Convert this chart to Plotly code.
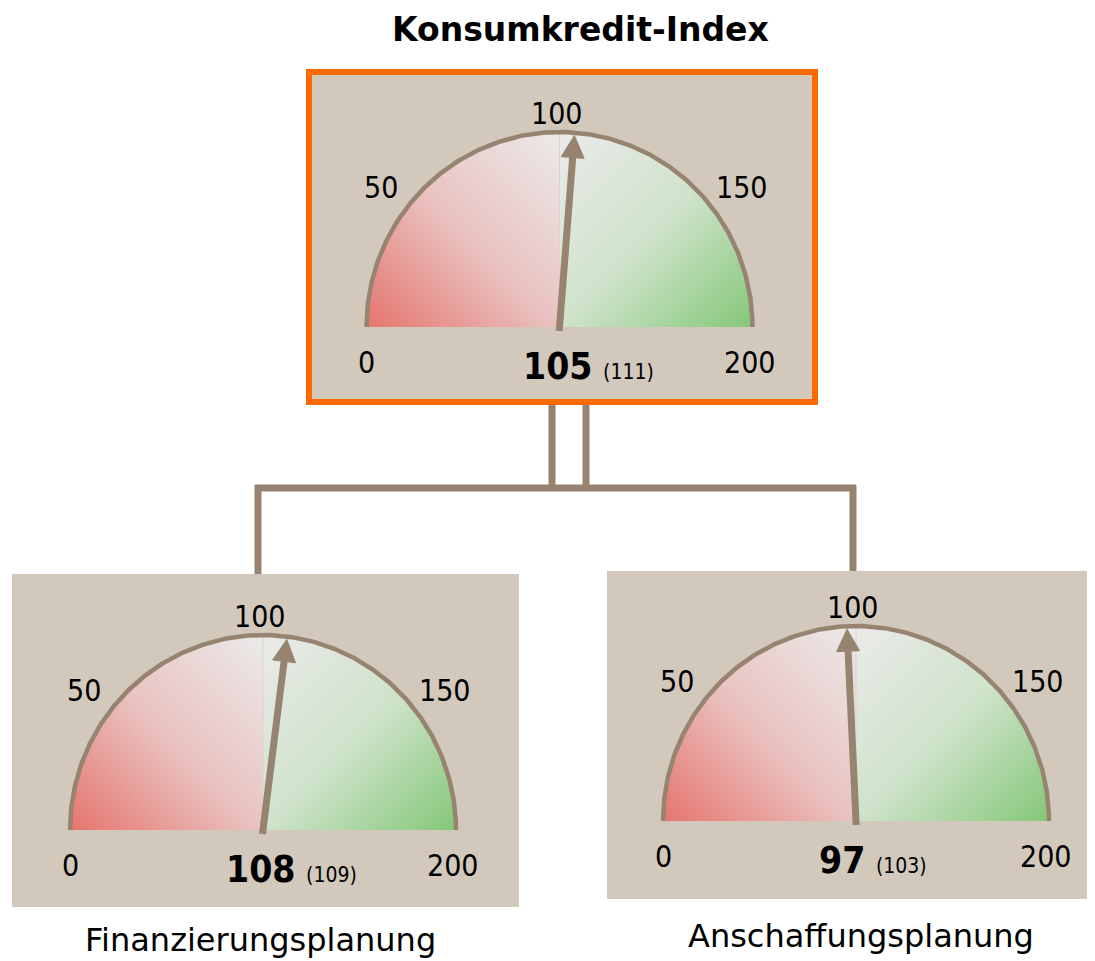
import numpy as np
import plotly.graph_objects as go

# data
GAUGE_NAMES = ["Konsumkredit-Index", "Finanzierungsplanung", "Anschaffungsplanung"]
GAUGE_VALUES = [105, 108, 97]
PREV_VALUES = [111, 109, 103]
TICK_VALUES = [0, 50, 100, 150, 200]
TICK_LABELS = ["0", "50", "100", "150", "200"]
SCALE_MAX = 200

# layout (pixel coordinates of the 1095x961 page)
W, H = 1095, 961
PAGE_MARGIN = 8  # default body margin of the html page
CENTERS = [(559.5, 327), (263, 830), (856, 821)]
PANELS = [(309, 72, 815, 402), (12, 574, 519, 907), (607, 571, 1092, 899)]
NAME_POS = [(580, 8.5), (260, 940), (861, 936)]
RX, RY = 193, 195
STEP = 2
# where each tick label sits relative to gauge centre
TICK_OFFSETS = [(-193, 35), (-179, -140), (-3, -214), (182, -140), (190, 35)]

BG = "#d2c9bc"
BROWN = "#968470"
ORANGE = "#ff6a00"
NUM_FONT = "DejaVu Sans Condensed, DejaVu Sans, sans-serif"
TXT_FONT = "DejaVu Sans, sans-serif"

gauge_scale = [
    [0.0, "#e6756e"],
    [0.25, "#e9c3c1"],
    [0.5, "#ebeaea"],
    [0.75, "#cfe3cb"],
    [1.0, "#84c778"],
]

fig = go.Figure()

# connectors between the panels
connectors = [
    (552, 402, 552, 491), (586, 402, 586, 491),
    (255, 488, 856, 488),
    (258, 485, 258, 576), (853, 485, 853, 573),
]
for x0, y0, x1, y1 in connectors:
    fig.add_shape(type="line", x0=x0, y0=y0, x1=x1, y1=y1, layer="below",
                  line=dict(color=BROWN, width=7))

# panels
for i, (x0, y0, x1, y1) in enumerate(PANELS):
    if i == 0:
        fig.add_shape(type="rect", x0=x0, y0=y0, x1=x1, y1=y1, layer="below",
                      fillcolor=BG, line=dict(color=ORANGE, width=6))
    else:
        fig.add_shape(type="rect", x0=x0, y0=y0, x1=x1, y1=y1, layer="below",
                      fillcolor=BG, line=dict(width=0))

for i, val in enumerate(GAUGE_VALUES):
    cx, cy = CENTERS[i]

    # gradient face: red half on the left, green half on the right
    xs = np.arange(cx - RX, cx + RX + 0.1, STEP)
    ys = np.arange(cy - RY, cy + 0.1, STEP)
    X, Y = np.meshgrid(xs, ys)
    inside = ((X - cx) / RX) ** 2 + ((Y - cy) / RY) ** 2 <= 1
    v = (cy - Y) / RY
    z_left = -(1 - ((X - (cx - RX)) / RX + v) / 2)
    z_right = ((X - cx) / RX + 1 - v) / 2
    z = np.where(X < cx, z_left, z_right)
    z = np.where(inside, np.round(z, 3), np.nan)
    fig.add_trace(go.Heatmap(x=xs, y=ys, z=z, colorscale=gauge_scale, zmin=-1, zmax=1,
                             showscale=False, hoverinfo="skip"))

    # centre divider
    fig.add_trace(go.Scatter(x=[cx, cx], y=[cy, cy - RY], mode="lines",
                             line=dict(color="#dcd3cb", width=1), hoverinfo="skip"))

    # outline arc
    t = np.linspace(np.pi, 0, 361)
    fig.add_trace(go.Scatter(x=cx + RX * np.cos(t), y=cy - RY * np.sin(t), mode="lines",
                             line=dict(color=BROWN, width=4.5), hoverinfo="skip"))

    # needle
    th = np.pi * (1 - val / SCALE_MAX)
    tip = np.array([cx + (RX - 3) * np.cos(th), cy - (RY - 3) * np.sin(th)])
    base = np.array([cx, cy])
    d = (tip - base) / np.linalg.norm(tip - base)
    p = np.array([-d[1], d[0]])
    start = base - 4 * d
    shaft_end = tip - 18 * d
    fig.add_trace(go.Scatter(x=[start[0], shaft_end[0]], y=[start[1], shaft_end[1]], mode="lines",
                             line=dict(color=BROWN, width=7), hoverinfo="skip"))
    hb = tip - 22 * d
    head = [tip, hb + 11.5 * p, hb - 11.5 * p, tip]
    fig.add_trace(go.Scatter(x=[q[0] for q in head], y=[q[1] for q in head], mode="lines",
                             fill="toself", fillcolor=BROWN, line=dict(color=BROWN, width=1),
                             hoverinfo="skip"))

    # tick labels
    for lab, (dx, dy) in zip(TICK_LABELS, TICK_OFFSETS):
        fig.add_annotation(x=cx + dx, y=cy + dy, text=lab, showarrow=False,
                           xanchor="center", yanchor="middle",
                           font=dict(family=NUM_FONT, size=30, color="black"))

    # value with previous value in brackets
    fig.add_annotation(x=cx - 39, y=cy + 39, xanchor="left", yanchor="middle", showarrow=False,
                       text=f"<b>{val}</b> <span style='font-size:21px'>({PREV_VALUES[i]})</span>",
                       font=dict(family=NUM_FONT, size=37, color="black"))

    # gauge name
    nx, ny = NAME_POS[i]
    if i == 0:
        fig.add_annotation(x=nx, y=ny, text=f"<b>{GAUGE_NAMES[i]}</b>", showarrow=False,
                           xanchor="center", yanchor="top", borderpad=0,
                           font=dict(family=TXT_FONT, size=33, color="black"))
    else:
        fig.add_annotation(x=nx, y=ny, text=GAUGE_NAMES[i], showarrow=False,
                           xanchor="center", yanchor="middle",
                           font=dict(family=TXT_FONT, size=32, color="black"))

fig.update_layout(
    width=W - PAGE_MARGIN, height=H - PAGE_MARGIN,
    margin=dict(l=0, r=0, t=0, b=0),
    paper_bgcolor="white", plot_bgcolor="white",
    showlegend=False,
    xaxis=dict(range=[PAGE_MARGIN, W], visible=False, fixedrange=True),
    yaxis=dict(range=[H, PAGE_MARGIN], visible=False, fixedrange=True),
)

fig.write_html("out.html")
